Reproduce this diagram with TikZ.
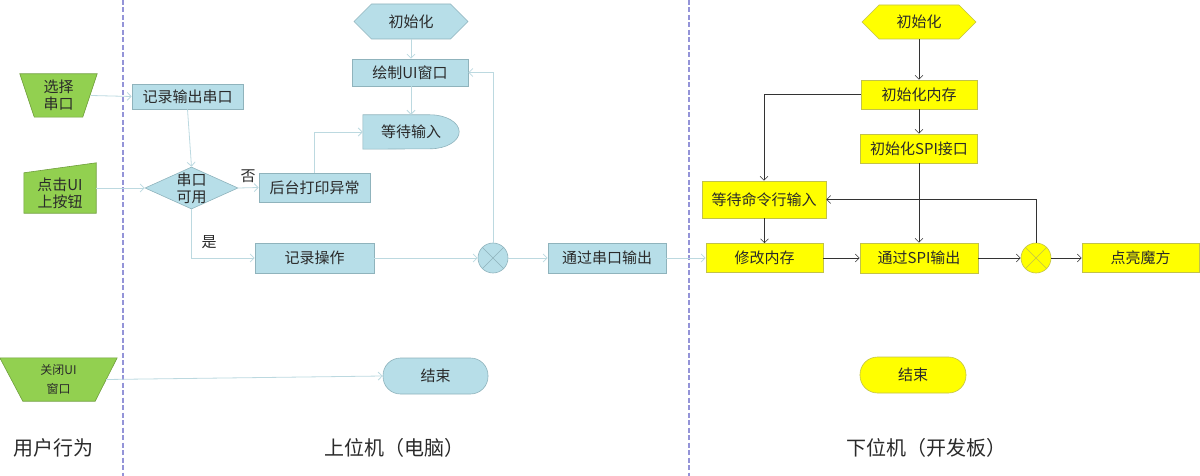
\documentclass[tikz,border=0pt]{standalone}
\usepackage{fontspec}
\setmainfont{Noto Sans CJK SC}
\usetikzlibrary{shapes.geometric,shapes.symbols,arrows.meta,backgrounds}
\definecolor{userfill}{HTML}{92D050}
\definecolor{useredge}{HTML}{6F9E3C}
\definecolor{pcfill}{HTML}{B7DEE8}
\definecolor{pcedge}{HTML}{8FB3BC}
\definecolor{pclink}{HTML}{BCD9E0}
\definecolor{mcufill}{HTML}{FFFF00}
\definecolor{mcuedge}{HTML}{C2C24A}
\definecolor{lanec}{HTML}{9494D8}
\definecolor{ink}{HTML}{2A2A2A}
\begin{document}
\begin{tikzpicture}[x=1pt, y=-1pt, >={Straight Barb[length=4pt,width=8pt]},
  word/.style={font=\fontsize{15}{17}\selectfont, text=ink, align=center, inner sep=0pt},
  pcbox/.style={word, draw=pcedge, fill=pcfill, line width=.6pt},
  mcubox/.style={word, draw=mcuedge, fill=mcufill, line width=.6pt},
  sz/.style 2 args={minimum width=#1pt, minimum height=#2pt},
  hexa/.style={signal, signal to=west and east},
  pill/.style={rounded corners=17.5pt},
  pcflow/.style={->, draw=pclink, line width=.8pt},
  mcuflow/.style={->, draw=black!80, line width=.6pt},
  usershape/.style={draw=useredge, fill=userfill, line width=.6pt},
  lane/.style={draw=lanec, line width=1.2pt, dash pattern=on 5pt off 2.5pt},
  lanelbl/.style={font=\fontsize{20}{24}\selectfont, text=ink}]
\useasboundingbox (0,0) rectangle (1200,476);

% lanes
\draw[lane] (123,0) -- (123,476);
\draw[lane] (689,0) -- (689,476);
\node[lanelbl] (userlbl) at (53.5,448) {用户行为};
\node[lanelbl] (pclbl) at (394,448) {上位机（电脑）};
\node[lanelbl] (mculbl) at (926,448) {下位机（开发板）};

% user actions
\node[word, sz={77}{43}] (sel) at (58.5,95.5) {选择\\串口};
\node[word, sz={72}{40}] (click) at (60,193) {点击UI\\上按钮};
\node[word, sz={117}{43}, font=\fontsize{12}{19}\selectfont] (close) at (58.5,379.5) {关闭UI\\窗口};
\begin{scope}[on background layer]
\draw[usershape] (sel.north west) -- (sel.north east) -- ([xshift=-14.5pt]sel.south east)
  -- ([xshift=14.5pt]sel.south west) -- cycle;
\draw[usershape] (click.south west) -- (click.south east) -- ([yshift=10pt]click.north east)
  -- (click.north west) -- cycle;
\draw[usershape] (close.north west) -- (close.north east) -- ([xshift=-22pt]close.south east)
  -- ([xshift=23pt]close.south west) -- cycle;
\end{scope}

% upper computer
\node[pcbox, hexa, sz={114}{35}] (initA) at (411,21.5) {初始化};
\node[pcbox, sz={116}{27}] (uiwin) at (410,72.5) {绘制UI窗口};
\node[word, sz={96}{34}] (waitA) at (411,132) {等待输入};
\begin{scope}[on background layer]
\draw[draw=pcedge, fill=pcfill, line width=.6pt] (waitA.north west) -- ([xshift=-29pt]waitA.north east)
  arc[start angle=90, end angle=-90, x radius=29pt, y radius=17pt] -- (waitA.south west) -- cycle;
\end{scope}
\node[pcbox, sz={111}{25}] (rec) at (187.5,96.5) {记录输出串口};
\node[pcbox, diamond, sz={93}{42}, label={[word]center:串口\\可用}] (avail) at (191.5,188) {};
\node[pcbox, sz={111}{29}] (err) at (314.5,187.5) {后台打印异常};
\node[pcbox, sz={119}{30}] (log) at (314.5,258) {记录操作};
\node[pcbox, circle, minimum size=30pt] (mergeA) at (493,258) {};
\draw[pcedge, line width=.6pt] (mergeA.45) -- (mergeA.225) (mergeA.135) -- (mergeA.-45);
\node[pcbox, sz={118}{30}] (sendA) at (607,258) {通过串口输出};
\node[pcbox, pill, sz={105}{36}] (endA) at (435.5,376) {结束};
\node[word] (no) at (248,176) {否};
\node[word] (yes) at (209,242) {是};

\draw[pcflow] ([xshift=-6pt]sel.east) -- (rec.west);
\draw[pcflow] (click.east |- avail.west) -- (avail.west);
\draw[pcflow] (rec.south) -- (avail.north);
\draw[pcflow] (avail.east) -- (err.west);
\draw[pcflow] (avail.south) |- (log.west);
\draw[pcflow] (err.north) |- (waitA.west);
\draw[pcflow] (initA.south) -- (initA.south |- uiwin.north);
\draw[pcflow] (uiwin.south -| waitA.north) -- (waitA.north);
\draw[pcflow] (log.east) -- (mergeA.west);
\draw[pcflow] (mergeA.north) |- (uiwin.east);
\draw[pcflow] (mergeA.east) -- (sendA.west);
\draw[pcflow] ([xshift=-11pt]close.east) -- (endA.west);

% lower computer
\node[mcubox, hexa, sz={114}{34}] (initB) at (919,22) {初始化};
\node[mcubox, sz={116}{29}] (mem) at (919,94.5) {初始化内存};
\node[mcubox, sz={117}{29}] (spi) at (919,148.5) {初始化SPI接口};
\node[mcubox, sz={124}{37}] (waitB) at (764,199.5) {等待命令行输入};
\node[mcubox, sz={117}{29}] (modify) at (764.5,258) {修改内存};
\node[mcubox, sz={118}{30}] (spiout) at (919,258) {通过SPI输出};
\node[mcubox, circle, minimum size=30pt] (mergeB) at (1036,258) {};
\draw[mcuedge, line width=.6pt] (mergeB.45) -- (mergeB.225) (mergeB.135) -- (mergeB.-45);
\node[mcubox, sz={117}{29}] (light) at (1140.5,258) {点亮魔方};
\node[mcubox, pill, sz={106}{36}] (endB) at (913,375) {结束};

\draw[pcflow] (sendA.east) -- (modify.west);
\draw[mcuflow] (initB.south) -- (mem.north);
\draw[mcuflow] (mem.south) -- (spi.north);
\draw[mcuflow] (mem.west) -| (waitB.north);
\draw[mcuflow] (spi.south) -- (spiout.north);
\draw[mcuflow] (waitB.south -| modify.north) -- (modify.north);
\draw[mcuflow] (modify.east) -- (spiout.west);
\draw[mcuflow] (spiout.east) -- (mergeB.west);
\draw[mcuflow] (mergeB.north) |- (waitB.east);
\draw[mcuflow] (mergeB.east) -- (light.west);
\end{tikzpicture}
\end{document}
